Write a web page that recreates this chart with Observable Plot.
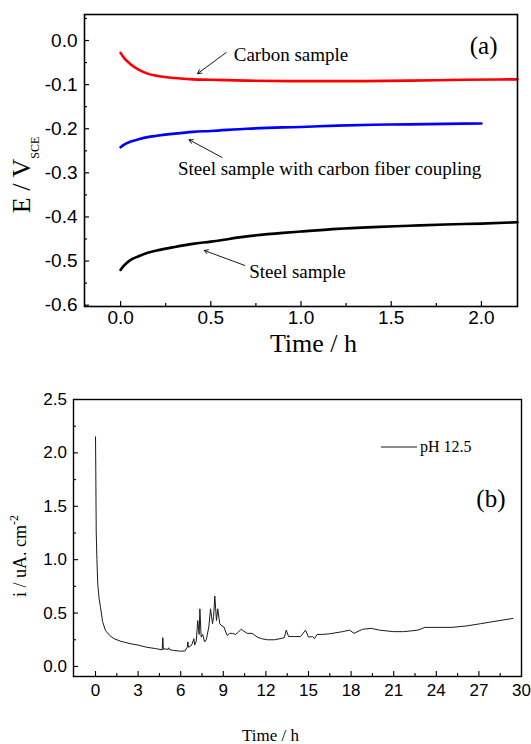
<!DOCTYPE html>
<html>
<head>
<meta charset="utf-8">
<script src="https://cdn.jsdelivr.net/npm/d3@7"></script>
<script src="https://cdn.jsdelivr.net/npm/@observablehq/plot@0.6"></script>
<style>
  html, body { margin: 0; padding: 0; background: #fff; }
  #wrap { position: relative; width: 531px; height: 744px; overflow: hidden; }
  #panelA, #panelB { position: absolute; left: 0; }
  #panelA { top: 0; }
  #panelB { top: 370px; }
</style>
</head>
<body>
<div id="wrap"><div id="panelA"></div><div id="panelB"></div></div>
<script>
// ---------- Panel (a) data: open-circuit potential vs time ----------
const timeCarbon = [0, 0.02, 0.05, 0.1, 0.15, 0.2, 0.3, 0.4, 0.5, 0.7, 1.0, 1.3, 1.6, 1.9, 2.2];
const potentialCarbon = [-0.028, -0.04, -0.052, -0.066, -0.075, -0.08, -0.085, -0.088, -0.089, -0.091, -0.092, -0.092, -0.091, -0.089, -0.088];

const timeCoupled = [0, 0.02, 0.05, 0.1, 0.15, 0.2, 0.3, 0.4, 0.5, 0.7, 0.9, 1.0, 1.2, 1.4, 1.6, 1.8, 2.0];
const potentialCoupled = [-0.242, -0.236, -0.23, -0.224, -0.219, -0.216, -0.211, -0.207, -0.205, -0.2, -0.197, -0.196, -0.193, -0.191, -0.19, -0.189, -0.188];

const timeSteel = [0, 0.02, 0.05, 0.1, 0.15, 0.2, 0.3, 0.4, 0.5, 0.7, 0.9, 1.0, 1.2, 1.4, 1.6, 1.8, 2.0, 2.2];
const potentialSteel = [-0.52, -0.51, -0.499, -0.489, -0.481, -0.476, -0.468, -0.461, -0.456, -0.444, -0.436, -0.433, -0.427, -0.423, -0.42, -0.417, -0.415, -0.412];

const annotLabels = ["Carbon sample", "Steel sample with carbon fiber coupling", "Steel sample"];
const annotTextTime = [0.627, 0.318, 0.713];
const annotTextPotential = [-0.032, -0.291, -0.525];
const arrowFromTime = [0.586, 0.562, 0.689];
const arrowFromPotential = [-0.027, -0.265, -0.51];
const arrowToTime = [0.427, 0.38, 0.464];
const arrowToPotential = [-0.075, -0.225, -0.476];

const xTicksA = [0, 0.5, 1.0, 1.5, 2.0];
const yTicksA = [0, -0.1, -0.2, -0.3, -0.4, -0.5, -0.6];

// ---------- Panel (b) data: current density vs time (pH 12.5) ----------
const timeB = [0, 0.02, 0.05, 0.1, 0.16, 0.25, 0.35, 0.5, 0.7, 1.0, 1.3, 1.8, 2.5, 3.0, 3.6, 4.2, 4.7, 4.74, 4.78, 4.9,
  5.1, 5.16, 5.2, 5.5, 6.0, 6.3, 6.46, 6.5, 6.55, 6.7, 6.8, 6.93, 6.98, 7.1, 7.2, 7.3, 7.35, 7.44, 7.55, 7.68,
  7.8, 7.98, 8.1, 8.24, 8.32, 8.4, 8.52, 8.61, 8.75, 8.9, 9.04, 9.27, 9.45, 9.63, 9.86, 10.05, 10.26, 10.45, 10.68, 11.03,
  11.39, 11.7, 12.1, 12.6, 13.0, 13.3, 13.43, 13.6, 14.0, 14.44, 14.79, 15.0, 15.3, 15.42, 15.6, 16.0, 16.5, 17.4, 17.9, 18.2,
  18.8, 19.4, 20.0, 21.0, 21.7, 22.7, 23.2, 24.2, 25.1, 26.1, 27.1, 28.0, 28.7, 29.4];
const currentB = [2.15, 1.85, 1.26, 1.0, 0.77, 0.64, 0.555, 0.42, 0.337, 0.29, 0.26, 0.235, 0.212, 0.2, 0.18, 0.168, 0.156, 0.27, 0.16, 0.165,
  0.16, 0.175, 0.158, 0.15, 0.143, 0.145, 0.18, 0.23, 0.18, 0.19, 0.21, 0.26, 0.2, 0.24, 0.43, 0.3, 0.54, 0.275, 0.3, 0.23,
  0.25, 0.37, 0.54, 0.4, 0.47, 0.66, 0.43, 0.54, 0.4, 0.38, 0.37, 0.29, 0.31, 0.31, 0.3, 0.32, 0.35, 0.33, 0.31, 0.31,
  0.275, 0.26, 0.25, 0.25, 0.26, 0.27, 0.34, 0.28, 0.28, 0.28, 0.34, 0.275, 0.28, 0.26, 0.3, 0.3, 0.306, 0.326, 0.34, 0.31,
  0.348, 0.357, 0.34, 0.326, 0.326, 0.34, 0.366, 0.366, 0.366, 0.379, 0.4, 0.42, 0.435, 0.45];
const legendLabelB = "pH 12.5";

const xTicksB = [0, 3, 6, 9, 12, 15, 18, 21, 24, 27, 30];
const yTicksB = [0, 0.5, 1.0, 1.5, 2.0, 2.5];

// ---------- build tables ----------
const zip = (xs, ys) => xs.map((x, i) => ({t: x, v: ys[i]}));
const carbon = zip(timeCarbon, potentialCarbon);
const coupled = zip(timeCoupled, potentialCoupled);
const steel = zip(timeSteel, potentialSteel);
const annotations = annotLabels.map((label, i) => ({
  label, tx: annotTextTime[i], ty: annotTextPotential[i],
  x1: arrowFromTime[i], y1: arrowFromPotential[i], x2: arrowToTime[i], y2: arrowToPotential[i]
}));
const currentData = zip(timeB, currentB);

const fontSans = "Liberation Sans, Arial, sans-serif";
const fontSerif = "Liberation Serif, Times New Roman, serif";

// ---------- Panel (a) ----------
const chartA = Plot.plot({
  width: 531, height: 370,
  marginLeft: 84, marginRight: 14, marginTop: 14, marginBottom: 64,
  style: {fontFamily: fontSans, fontSize: "19px", color: "#000", background: "white", overflow: "visible"},
  x: {domain: [-0.2, 2.2]},
  y: {domain: [-0.603, 0.059]},
  marks: [
    Plot.axisX(xTicksA, {anchor: "bottom", tickSize: -5, tickPadding: 8.5, tickFormat: d => d.toFixed(1), label: null, strokeWidth: 1.2}),
    Plot.axisX(d3.range(0.25, 2.2, 0.5), {anchor: "bottom", tickSize: -3, text: null, label: null, strokeWidth: 1.2}),
    Plot.axisY(yTicksA, {anchor: "left", tickSize: -5, tickPadding: 12, tickFormat: d => d.toFixed(1), label: null, strokeWidth: 1.2}),
    Plot.axisY(d3.range(-0.55, 0.06, 0.1), {anchor: "left", tickSize: -3, text: null, label: null, strokeWidth: 1.2}),
    Plot.line(carbon, {x: "t", y: "v", stroke: "#ff0000", strokeWidth: 2.6, curve: "monotone-x"}),
    Plot.line(coupled, {x: "t", y: "v", stroke: "#0000ff", strokeWidth: 2.6, curve: "monotone-x"}),
    Plot.line(steel, {x: "t", y: "v", stroke: "#000000", strokeWidth: 2.6, curve: "monotone-x"}),
    Plot.arrow(annotations, {x1: "x1", y1: "y1", x2: "x2", y2: "y2", stroke: "#000", strokeWidth: 0.9, headLength: 7}),
    Plot.text(annotations, {x: "tx", y: "ty", text: "label", textAnchor: "start", fontFamily: fontSerif, fontSize: 19, fill: "#000"}),
    Plot.text(["(a)"], {text: d => d, frameAnchor: "top-right", lineAnchor: "middle", dx: -20, dy: 31, textAnchor: "end", fontFamily: fontSerif, fontSize: 25}),
    Plot.text(["Time / h"], {text: d => d, frameAnchor: "bottom", lineAnchor: "middle", dx: 12.5, dy: 37, fontFamily: fontSerif, fontSize: 26}),
    Plot.frame({stroke: "#000", strokeWidth: 1.6})
  ]
});
document.getElementById("panelA").appendChild(chartA);

// y label with subscript
d3.select(chartA).append("text")
  .attr("transform", "translate(30,175) rotate(-90)")
  .attr("text-anchor", "middle")
  .attr("fill", "#000")
  .style("font-family", fontSerif)
  .style("font-size", "26px")
  .call(t => {
    t.append("tspan").text("E / V");
    t.append("tspan").attr("dy", 9).style("font-size", "12px").text("SCE");
  });

// ---------- Panel (b) ----------
const chartB = Plot.plot({
  width: 531, height: 374,
  marginLeft: 73, marginRight: 10, marginTop: 29, marginBottom: 68,
  style: {fontFamily: fontSans, fontSize: "17px", color: "#000", background: "white", overflow: "visible"},
  x: {domain: [-1.55, 30]},
  y: {domain: [-0.094, 2.5]},
  marks: [
    Plot.axisX(xTicksB, {anchor: "bottom", tickSize: -5, tickPadding: 12, tickFormat: d => String(d), label: null, strokeWidth: 1.1}),
    Plot.axisX(d3.range(1.5, 30, 3), {anchor: "bottom", tickSize: -3, text: null, label: null, strokeWidth: 1.1}),
    Plot.axisY(yTicksB, {anchor: "left", tickSize: -5, tickPadding: 11.6, tickFormat: d => d.toFixed(1), label: null, strokeWidth: 1.1}),
    Plot.axisY(d3.range(0.25, 2.5, 0.5), {anchor: "left", tickSize: -3, text: null, label: null, strokeWidth: 1.1}),
    Plot.line(currentData, {x: "t", y: "v", stroke: "#1a1a1a", strokeWidth: 1}),
    Plot.text(["(b)"], {text: d => d, frameAnchor: "top-right", lineAnchor: "middle", dx: -16, dy: 99, textAnchor: "end", fontFamily: fontSerif, fontSize: 25}),
    Plot.text(["Time / h"], {text: d => d, frameAnchor: "bottom", lineAnchor: "middle", dx: -27, dy: 59, fontFamily: fontSerif, fontSize: 17}),
    Plot.frame({stroke: "#000", strokeWidth: 1.4})
  ]
});
document.getElementById("panelB").appendChild(chartB);

const svgB = d3.select(chartB);
svgB.append("text")
  .attr("transform", "translate(26,186) rotate(-90)")
  .attr("text-anchor", "middle")
  .attr("fill", "#000")
  .style("font-family", fontSerif)
  .style("font-size", "18px")
  .call(t => {
    t.append("tspan").text("i / uA. cm");
    t.append("tspan").attr("dy", -8).style("font-size", "12px").text("-2");
  });
// legend
svgB.append("line").attr("x1", 381).attr("x2", 417).attr("y1", 77).attr("y2", 77)
  .attr("stroke", "#1a1a1a").attr("stroke-width", 1);
svgB.append("text").attr("x", 420).attr("y", 77).attr("dy", "0.32em").attr("fill", "#000")
  .attr("text-anchor", "start")
  .style("font-family", fontSerif).style("font-size", "16px").text(legendLabelB);
</script>
</body>
</html>
